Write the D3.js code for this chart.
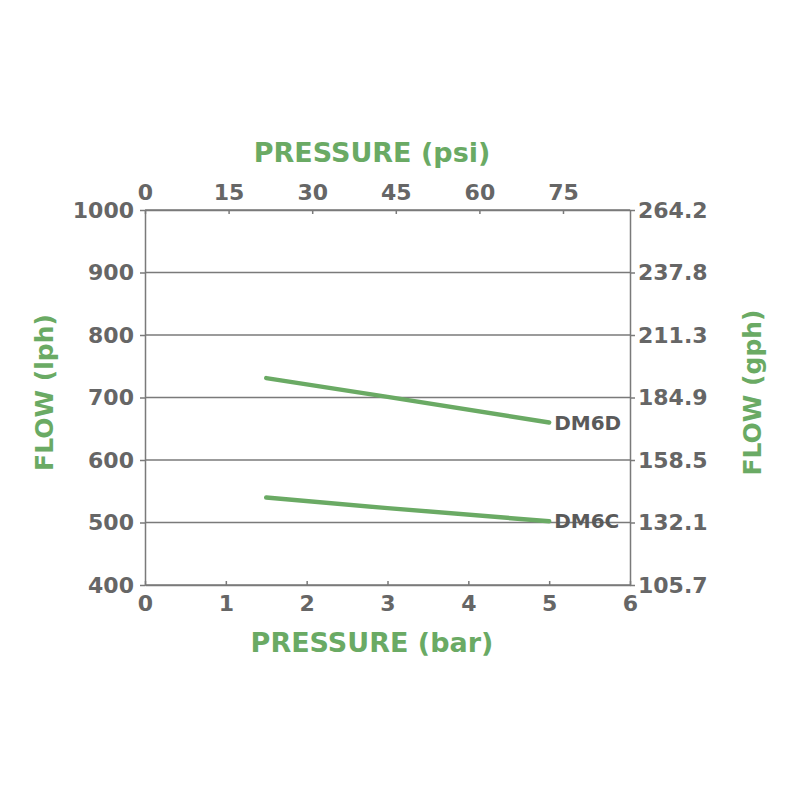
<!DOCTYPE html>
<html>
<head>
<meta charset="utf-8">
<script src="https://cdn.jsdelivr.net/npm/d3@7"></script>
<style>
    body { margin: 0; background: #fff; }
    text { font-family: "DejaVu Sans", sans-serif; font-weight: bold; }
</style>
</head>
<body>
<div id="flow_chart"></div>
<script>
// pressure (bar) and flow (lph)
var barTicks = [0, 1, 2, 3, 4, 5, 6];
var psiTicks = [0, 15, 30, 45, 60, 75];
var lphTicks = [400, 500, 600, 700, 800, 900, 1000];
var gphLabels = ["105.7", "132.1", "158.5", "184.9", "211.3", "237.8", "264.2"];

var seriesNames = ["DM6D", "DM6C"];
var dm6dBar = [1.5, 3, 5];
var dm6dLph = [731, 701, 660];
var dm6cBar = [1.5, 3, 5];
var dm6cLph = [540, 523, 502];

var green = "#6aaa64";
var grey = "#666666";
var lineGrey = "#7a7a7a";

var margin = {top: 210, right: 170, bottom: 215, left: 145},
    width = 800 - margin.left - margin.right,
    height = 800 - margin.top - margin.bottom;

var svg = d3.select("#flow_chart")
    .append("svg")
    .attr("width", 800)
    .attr("height", 800)
    .append("g")
    .attr("transform", "translate(" + margin.left + "," + margin.top + ")");

var x = d3.scaleLinear().domain([0, 6]).range([0, width]);
var xPsi = d3.scaleLinear().domain([0, 6 * 14.5038]).range([0, width]);
var y = d3.scaleLinear().domain([400, 1000]).range([height, 0]);

// horizontal grid lines
svg.append("g")
    .selectAll("line")
    .data(lphTicks)
    .enter().append("line")
    .attr("x1", 0)
    .attr("x2", width)
    .attr("y1", function(d) { return y(d); })
    .attr("y2", function(d) { return y(d); })
    .style("stroke", lineGrey)
    .style("stroke-width", 1.5);

function styleAxis(g) {
    g.select(".domain").style("stroke", lineGrey).style("stroke-width", 1.5);
    g.selectAll(".tick line").style("stroke", lineGrey).style("stroke-width", 1.5);
    g.selectAll(".tick text")
        .style("fill", grey)
        .style("font-size", "22px")
        .style("font-family", "DejaVu Sans, sans-serif")
        .style("font-weight", "bold");
}

// bottom axis (bar)
var xAxis = d3.axisBottom(x).tickValues(barTicks).tickFormat(d3.format("d"))
    .tickSizeInner(-4).tickSizeOuter(0).tickPadding(10);
svg.append("g")
    .attr("transform", "translate(0," + height + ")")
    .call(xAxis)
    .call(styleAxis);

// top axis (psi)
var xAxisTop = d3.axisTop(xPsi).tickValues(psiTicks).tickFormat(d3.format("d"))
    .tickSizeInner(-4).tickSizeOuter(0).tickPadding(10);
svg.append("g")
    .call(xAxisTop)
    .call(styleAxis);

// left axis (lph)
var yAxis = d3.axisLeft(y).tickValues(lphTicks).tickFormat(d3.format("d"))
    .tickSizeInner(5).tickSizeOuter(0).tickPadding(6);
svg.append("g")
    .call(yAxis)
    .call(styleAxis);

// right axis (gph)
var yAxisRight = d3.axisRight(y).tickValues(lphTicks).tickSizeInner(5).tickSizeOuter(0).tickPadding(3)
    .tickFormat(function(d, i) { return gphLabels[i]; });
svg.append("g")
    .attr("transform", "translate(" + width + ",0)")
    .call(yAxisRight)
    .call(styleAxis);

// curves
var line = d3.line()
    .x(function(d) { return x(d[0]); })
    .y(function(d) { return y(d[1]); });

var curves = [
    d3.zip(dm6dBar, dm6dLph),
    d3.zip(dm6cBar, dm6cLph)
];

svg.selectAll(".curve")
    .data(curves)
    .enter().append("path")
    .attr("class", "curve")
    .attr("d", line)
    .style("fill", "none")
    .style("stroke", green)
    .style("stroke-width", 4.5)
    .style("stroke-linecap", "round")
    .style("stroke-linejoin", "round");

svg.selectAll(".curveLabel")
    .data(curves)
    .enter().append("text")
    .attr("class", "curveLabel")
    .attr("x", function(d) { return x(d[d.length - 1][0]) + 5; })
    .attr("y", function(d) { return y(d[d.length - 1][1]) + 7; })
    .style("fill", "#5a5a5a")
    .style("font-size", "20px")
    .text(function(d, i) { return seriesNames[i]; });

// axis titles
svg.append("text")
    .attr("x", 227)
    .attr("y", -48)
    .attr("text-anchor", "middle")
    .style("fill", green)
    .style("font-size", "27px")
    .text("PRESSURE (psi)");

svg.append("text")
    .attr("x", 227)
    .attr("y", height + 67)
    .attr("text-anchor", "middle")
    .style("fill", green)
    .style("font-size", "27px")
    .text("PRESSURE (bar)");

svg.append("text")
    .attr("transform", "translate(-92," + (height / 2 - 5) + ") rotate(-90)")
    .attr("text-anchor", "middle")
    .style("fill", green)
    .style("font-size", "25px")
    .text("FLOW (lph)");

svg.append("text")
    .attr("transform", "translate(" + (width + 131) + "," + (height / 2 - 5) + ") rotate(-90)")
    .attr("text-anchor", "middle")
    .style("fill", green)
    .style("font-size", "25px")
    .text("FLOW (gph)");
</script>
</body>
</html>
